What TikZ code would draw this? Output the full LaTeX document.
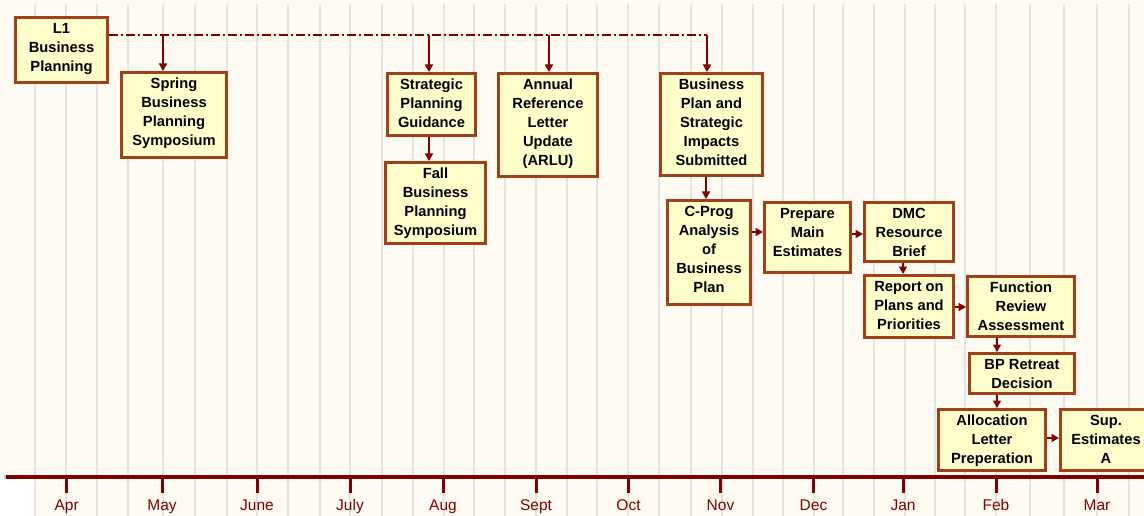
\documentclass[tikz,border=0pt]{standalone}
\usepackage{fontspec}
\setmainfont{Liberation Sans}
\usetikzlibrary{arrows.meta}
\definecolor{bg}{RGB}{255,251,243}
\definecolor{gridc}{RGB}{228,228,228}
\definecolor{boxfill}{RGB}{255,255,204}
\definecolor{boxline}{RGB}{160,64,24}
\definecolor{darkred}{RGB}{128,0,0}
\newcommand\mkbox[6]{%
  \node[box, minimum width=#4-#2-2.6, minimum height=#5-#3-2.6] (#1) at (#2,#3) {};
  \node[boxtext] (#1t) at ([yshift=-6.8pt]#1.north) {#6};}
\begin{document}
\begin{tikzpicture}[x=1pt,y=-1pt,
  box/.style={draw=boxline, fill=boxfill, line width=2.6pt, inner sep=0pt, anchor=north west},
  boxtext/.style={font=\fontsize{14.7}{19}\selectfont\bfseries, align=center, inner sep=0pt, anchor=north},
  link/.style={draw=darkred, line width=1.6pt, -{Triangle[length=7.5pt,width=8pt]}},
  gridline/.style={draw=gridc, line width=2pt},
  tickmark/.style={draw=darkred, line width=3pt},
  month/.style={font=\fontsize{15.5}{18}\selectfont, text=darkred, inner sep=0pt, text height=11pt, text depth=3pt}]
\useasboundingbox (0,0) rectangle (1144,516);
\clip (0,0) rectangle (1144,516);
\fill[bg] (0,0) rectangle (1144,516);
\fill[white] (0,479) rectangle (34,516);
% grid
\foreach \x in {35,66,97,128,163,195,227,257,288,320,350,382,412.75,443.5,474.25,505,535.75,566.5,597.25,628,659,691,721.5,753,783,813.5,843,874,905,935,965,996,1030,1064,1097,1129}
  \draw[gridline] (\x,4) -- (\x,516);
% axis
\draw[darkred, line width=4pt] (5,477) -- (1144,477);
\fill[gridc!70!gray] (3.5,475) rectangle (6,479);
\foreach \m/\x/\i in {Apr/66.7/1, May/162/2, June/257/3, July/350/4, Aug/443/5, Sept/536/6, Oct/628.5/7, Nov/720.5/8, Dec/813.5/9, Jan/903/10, Feb/996/11, Mar/1097/12} {
  \draw[tickmark] (\x,477) -- (\x,493);
  \node[month] (m\i) at (\x,506) {\m};
}
% boxes
\mkbox{L1}{14}{16}{109}{84}{L1\\Business\\Planning}
\mkbox{Spring}{120}{71}{228}{159}{Spring\\Business\\Planning\\Symposium}
\mkbox{Strat}{386}{72}{477}{137}{Strategic\\Planning\\Guidance}
\mkbox{Fall}{384}{161}{487}{245}{Fall\\Business\\Planning\\Symposium}
\mkbox{ARLU}{497}{72}{599}{178}{Annual\\Reference\\Letter\\Update\\(ARLU)}
\mkbox{BPS}{659}{72}{764}{177}{Business\\Plan and\\Strategic\\Impacts\\Submitted}
\mkbox{CProg}{666}{199}{752}{306}{C-Prog\\Analysis\\of\\Business\\Plan}
\mkbox{Prep}{763}{201}{852}{274}{Prepare\\Main\\Estimates}
\mkbox{DMC}{863}{201}{955}{263}{DMC\\Resource\\Brief}
\mkbox{Report}{863}{274}{955}{339}{Report on\\Plans and\\Priorities}
\mkbox{Func}{966}{275}{1076}{338}{Function\\Review\\Assessment}
\mkbox{BPR}{968}{352}{1076}{395}{BP Retreat\\Decision}
\mkbox{Alloc}{937}{408}{1047}{472}{Allocation\\Letter\\Preperation}
\mkbox{Sup}{1059}{408}{1153}{472}{Sup.\\Estimates\\A}
% dash-dot line and taps
\coordinate (d0) at ([yshift=-19pt]L1.north east);
\coordinate (t1) at (163,35);
\coordinate (t2) at (429,35);
\coordinate (t3) at (549,35);
\coordinate (t4) at (707,35);
\draw[darkred, line width=1.2pt, dash pattern=on 9pt off 3pt on 2pt off 3pt] (d0) -- (t4);
\draw[link] (t1) -- (t1 |- Spring.north);
\draw[link] (t2) -- (t2 |- Strat.north);
\draw[link] (t3) -- (t3 |- ARLU.north);
\draw[link] (t4) -- (t4 |- BPS.north);
\draw[link] (t2 |- Strat.south) -- (t2 |- Fall.north);
\coordinate (c0) at ([xshift=-1pt]t4 |- BPS.south);
\draw[link] (c0) -- (c0 |- CProg.north);
\coordinate (a1) at ([yshift=-33pt]CProg.north east);
\draw[link] (a1) -- (a1 -| Prep.west);
\coordinate (a2) at ([yshift=-33pt]Prep.north east);
\draw[link] (a2) -- (a2 -| DMC.west);
\coordinate (a3) at ([xshift=40pt]DMC.south west);
\draw[link] (a3) -- (a3 |- Report.north);
\coordinate (a4) at ([yshift=-33pt]Report.north east);
\draw[link] (a4) -- (a4 -| Func.west);
\coordinate (a5) at ([xshift=31pt]Func.south west);
\draw[link] (a5) -- (a5 |- BPR.north);
\coordinate (a6) at ([xshift=29pt]BPR.south west);
\draw[link] (a6) -- (a6 |- Alloc.north);
\coordinate (a7) at ([yshift=-30pt]Alloc.north east);
\draw[link] (a7) -- (a7 -| Sup.west);
\end{tikzpicture}
\end{document}
